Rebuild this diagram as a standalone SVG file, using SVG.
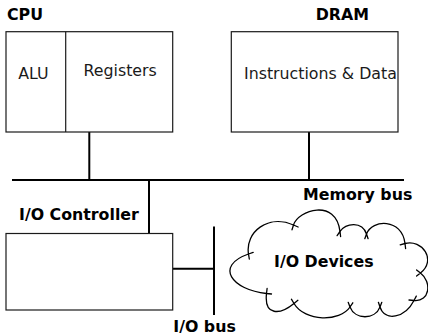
<svg xmlns="http://www.w3.org/2000/svg" width="428" height="335" viewBox="0 0 428 335">
  <style>
    .box { fill: #ffffff; stroke: #1a1a1a; stroke-width: 1.2; }
    .wire { fill: none; stroke: #000000; stroke-width: 2; }
    .cloud { fill: #ffffff; stroke: #000000; stroke-width: 1.3; stroke-linejoin: round; }
    .tick { fill: none; stroke: #000000; stroke-width: 1.3; stroke-linecap: round; }
    .lbl { font-family: "DejaVu Sans", sans-serif; font-size: 15.8px; fill: #1a1a1a; }
    .title { font-family: "DejaVu Sans", sans-serif; font-size: 15.8px; font-weight: bold; fill: #000000; }
  </style>
  <rect width="428" height="335" fill="#ffffff"/>

  <!-- buses and links -->
  <g id="connectors">
    <line class="wire" x1="89.3" y1="132" x2="89.3" y2="180"/>
    <line class="wire" x1="309" y1="132" x2="309" y2="180"/>
    <line class="wire" x1="12" y1="180" x2="404" y2="180"/>
    <line class="wire" x1="149" y1="180" x2="149" y2="233.5"/>
    <line class="wire" x1="214" y1="226.5" x2="214" y2="315"/>
    <line class="wire" x1="173" y1="268.7" x2="214" y2="268.7"/>
  </g>

  <g id="cpu">
    <rect class="box" x="6" y="31.7" width="166.7" height="100.3"/>
    <line class="box" x1="65.7" y1="31.7" x2="65.7" y2="132"/>
    <text class="title" x="7" y="19.5">CPU</text>
    <text class="lbl" x="18.3" y="79">ALU</text>
    <text class="lbl" x="83.5" y="76">Registers</text>
  </g>

  <g id="dram">
    <rect class="box" x="231.3" y="31.7" width="166.7" height="100.3"/>
    <text class="title" x="315.7" y="19.5">DRAM</text>
    <text class="lbl" x="244" y="79.3">Instructions &amp; Data</text>
  </g>

  <g id="memory-bus-label">
    <text class="title" x="303" y="200">Memory bus</text>
  </g>

  <g id="io-controller">
    <rect class="box" x="6" y="233.5" width="166.7" height="76.5"/>
    <text class="title" x="19" y="220">I/O Controller</text>
  </g>

  <g id="io-bus-label">
    <text class="title" x="173.3" y="331.5">I/O bus</text>
  </g>

  <g id="io-devices">
    <path class="cloud" d="M248.5,254
      C245,232 268,214 293.5,225
      C298,210 336,198 340,231.5
      C346,223 362,221 366.5,234
      C372,219 402,218 405,243.5
      C422,239 437,260 420.5,273
      C432,282 430,302 414,300.5
      C405,318 385,322 380,307
      C375,320 355,320 350,307
      C340,322 305,322 294,303.5
      C280,315 264,316 266.5,293.5
      C232,290 214,266 248.5,254 Z"/>
    <path class="tick" d="M248.5,254 L253.2,252.4 M248.5,254 L249.3,259
      M293.5,225 L298.1,227 M293.5,225 L292,229.8
      M340,231.5 L340.6,236.5 M340,231.5 L337.1,235.6
      M366.5,234 L368.1,238.7 M366.5,234 L364.8,238.7
      M405,243.5 L405.6,248.5 M405,243.5 L400.2,244.8
      M420.5,273 L416.6,276.1 M420.5,273 L416.6,269.9
      M414,300.5 L409,300 M414,300.5 L416.3,296.1
      M380,307 L378.4,302.3 M380,307 L381.8,302.3
      M350,307 L348.2,302.3 M350,307 L352.8,302.8
      M294,303.5 L291.4,299.2 M294,303.5 L297.9,300.3
      M266.5,293.5 L267.1,288.5 M266.5,293.5 L271.5,294"/>
    <text class="title" x="274" y="266.5">I/O Devices</text>
  </g>
</svg>
